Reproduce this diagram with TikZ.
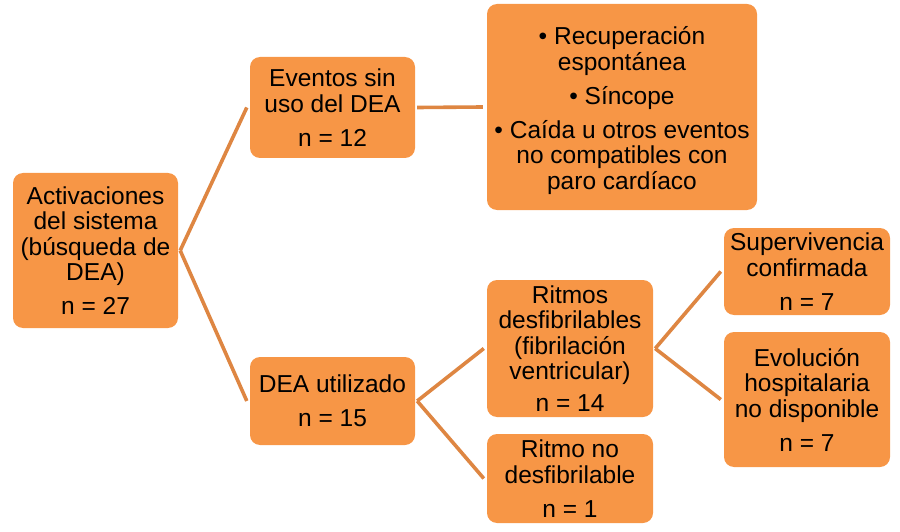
\documentclass[tikz,border=0pt]{standalone}
\usepackage{fontspec}
\setmainfont{Liberation Sans}
\definecolor{boxfill}{RGB}{247,150,70}
\definecolor{linecol}{RGB}{222,134,66}
\begin{document}
\begin{tikzpicture}[x=1pt,y=-1pt,
  box/.style={fill=boxfill, rounded corners=10pt, inner sep=0pt, align=center,
    font=\fontsize{24.5}{25.5}\selectfont, text=black},
  txt/.style={inner sep=0pt, align=center, font=\fontsize{24.5}{25.5}\selectfont, text=black},
  conn/.style={draw=linecol, line width=3.6pt}]
\useasboundingbox (0,0) rectangle (900,532);
\node[box, minimum width=165pt, minimum height=155pt] (act) at (95.5,250.5)
  {Activaciones\\del sistema\\(búsqueda de\\DEA)\\[8.5pt]n = 27};
\node[box, minimum width=165pt, minimum height=101pt] (ev) at (332.5,107.5)
  {Eventos sin\\uso del DEA\\[8.5pt]n = 12};
\node[box, minimum width=270pt, minimum height=206pt] (bul) at (622,107) {};
\node[txt] (bultxt) at (622,110.5)
  {• Recuperación\\espontánea\\[8.5pt]• Síncope\\[8.5pt]• Caída u otros eventos\\no compatibles con\\paro cardíaco};
\node[box, minimum width=165pt, minimum height=88pt] (dea) at (332.5,401)
  {DEA utilizado\\[8.5pt]n = 15};
\node[box, minimum width=166pt, minimum height=137pt] (rit) at (570,348.5)
  {Ritmos\\desfibrilables\\(fibrilación\\ventricular)\\[6pt]n = 14};
\node[box, minimum width=166pt, minimum height=89pt] (rno) at (570,478.5)
  {Ritmo no\\desfibrilable\\[8.5pt]n = 1};
\node[box, minimum width=166pt, minimum height=87pt] (sup) at (807,271.5)
  {Supervivencia\\confirmada\\[8.5pt]n = 7};
\node[box, minimum width=166pt, minimum height=135pt] (evo) at (807,399.5)
  {Evolución\\hospitalaria\\no disponible\\[8.5pt]n = 7};
\draw[conn] ([xshift=2pt]act.east) -- ([xshift=-3pt]ev.west);
\draw[conn] ([xshift=2pt]act.east) -- ([xshift=-3pt]dea.west);
\draw[conn] ([xshift=2pt]ev.east) -- ([xshift=-4pt]bul.west);
\draw[conn] ([xshift=2pt]dea.east) -- ([xshift=-3pt]rit.west);
\draw[conn] ([xshift=2pt]dea.east) -- ([xshift=-3pt]rno.west);
\draw[conn] ([xshift=2pt]rit.east) -- ([xshift=-3pt]sup.west);
\draw[conn] ([xshift=2pt]rit.east) -- ([xshift=-3pt]evo.west);
\end{tikzpicture}
\end{document}
